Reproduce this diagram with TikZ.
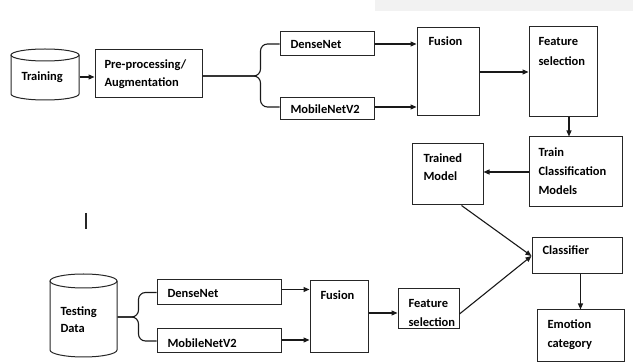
\documentclass[tikz,border=0pt]{standalone}
\usepackage{fontspec}
\setmainfont{Carlito}
\usetikzlibrary{arrows.meta}
\begin{document}
\begin{tikzpicture}[x=1pt,y=-1pt,
  line width=1pt,
  box/.style={draw=black!85, line width=1pt, rectangle, inner sep=0pt},
  hold/.style={inner sep=0pt, rectangle},
  txt/.style={anchor=base west, inner sep=0pt, font=\fontsize{12.5}{15}\selectfont\bfseries},
  arr/.style={draw=black!90, line width=1.1pt, -{Triangle[length=6pt,width=5pt]}},
  brace/.style={draw=black!90, line width=1.1pt, rounded corners=7pt}
]
\useasboundingbox (0,0) rectangle (633,363);
\fill[gray!10] (375,0) rectangle (633,11);

% ---- boxes (x1,y1)-(x2,y2) ----
\node[hold, minimum width=68pt, minimum height=51pt] (train) at (45,74.5) {};
\node[box, minimum width=107pt, minimum height=48pt] (pre) at (148.5,74) {};
\node[box, minimum width=94pt, minimum height=24pt] (dn) at (327,44) {};
\node[box, minimum width=94pt, minimum height=22pt] (mb) at (327,109) {};
\node[box, minimum width=62pt, minimum height=88pt] (fus) at (448,72) {};
\node[box, minimum width=68pt, minimum height=90pt] (fs) at (563,72) {};
\node[box, minimum width=93pt, minimum height=70pt] (tcm) at (575.5,172) {};
\node[box, minimum width=71pt, minimum height=61pt] (tm) at (447.5,174.5) {};
\node[box, minimum width=90pt, minimum height=36pt] (cls) at (577,256) {};
\node[box, minimum width=87pt, minimum height=52pt] (emo) at (580.5,336) {};
\node[box, minimum width=61pt, minimum height=40pt] (fsb) at (428.5,309) {};
\node[box, minimum width=58pt, minimum height=72pt] (fusb) at (339,317) {};
\node[box, minimum width=124pt, minimum height=25pt] (dnb) at (219,292.5) {};
\node[box, minimum width=124pt, minimum height=24pt] (mbb) at (219,341) {};
\node[hold, minimum width=67pt, minimum height=83pt] (test) at (83.5,315.5) {};

% ---- cylinders ----
\draw[black!85] (45,55) ellipse [x radius=34pt, y radius=6pt];
\draw[black!85] (11,55) -- (11,94) arc[start angle=180, end angle=360, x radius=34pt, y radius=6pt] -- (79,55);
\draw[black!85] (83.5,281) ellipse [x radius=33.5pt, y radius=7pt];
\draw[black!85] (50,281) -- (50,350) arc[start angle=180, end angle=360, x radius=33.5pt, y radius=7pt] -- (117,281);

% ---- texts ----
\node[txt] (t1) at (21,81) {Training};
\node[txt] (t2) at (104,69) {Pre-processing/};
\node[txt] (t3) at (104,87) {Augmentation};
\node[txt] (t4) at (290,49) {DenseNet};
\node[txt] (t5) at (290,114) {MobileNetV2};
\node[txt] (t6) at (428,46) {Fusion};
\node[txt] (t7) at (538,46) {Feature};
\node[txt] (t8) at (538,66) {selection};
\node[txt] (t9) at (538,157) {Train};
\node[txt] (t10) at (538,176) {Classification};
\node[txt] (t11) at (538,195) {Models};
\node[txt] (t12) at (423,163) {Trained};
\node[txt] (t13) at (423,181) {Model};
\node[txt] (t14) at (542,255) {Classifier};
\node[txt] (t15) at (547,329) {Emotion};
\node[txt] (t16) at (547,348) {category};
\node[txt] (t17) at (408,308) {Feature};
\node[txt] (t18) at (408,327) {selection};
\node[txt] (t19) at (320,300) {Fusion};
\node[txt] (t20) at (167,298) {DenseNet};
\node[txt] (t21) at (167,348) {MobileNetV2};
\node[txt] (t22) at (60,316) {Testing};
\node[txt] (t23) at (60,333) {Data};

% stray bar
\coordinate (b1) at (86,213);
\coordinate (b2) at (86,229);
\draw[black!85, line width=1.2pt] (b1) -- (b2);

% ---- connectors ----
\draw[arr] ([yshift=-2.5pt]train.east) -- ([yshift=-2.5pt]train.east -| pre.west);
\draw[brace] ([yshift=-2pt]pre.east) -- ++(58,0) |- (dn.west);
\draw[brace] ([yshift=-2pt]pre.east) -- ++(58,0) |- ([yshift=2pt]mb.west);
\draw[arr] (dn.east) -- (dn.east -| fus.west);
\draw[arr] ([yshift=2pt]mb.east) -- ([yshift=2pt]mb.east -| fus.west);
\draw[arr] (fus.east) -- (fs.west);
\draw[arr] ([xshift=6pt]fs.south) -- ([xshift=6pt]fs.south |- tcm.north);
\draw[arr] (tcm.west) -- (tcm.west -| tm.east);
\draw[arr] ([xshift=14pt]tm.south) -- (cls.west);
\draw[arr] ([yshift=-5pt]fsb.east) -- (cls.west);
\draw[arr] (emo.north |- cls.south) -- (emo.north);
\draw[arr] ([yshift=-4pt]fsb.west -| fusb.east) -- ([yshift=-4pt]fsb.west);
\draw[arr] ([yshift=3pt]dnb.east) -- ([yshift=3pt]dnb.east -| fusb.west);
\draw[arr] ([yshift=1pt]mbb.east) -- ([yshift=1pt]mbb.east -| fusb.west);
\draw[brace] ([yshift=-1.5pt]test.east) -- ++(21,0) |- (dnb.west);
\draw[brace] ([yshift=-1.5pt]test.east) -- ++(21,0) |- (mbb.west);
\end{tikzpicture}
\end{document}
